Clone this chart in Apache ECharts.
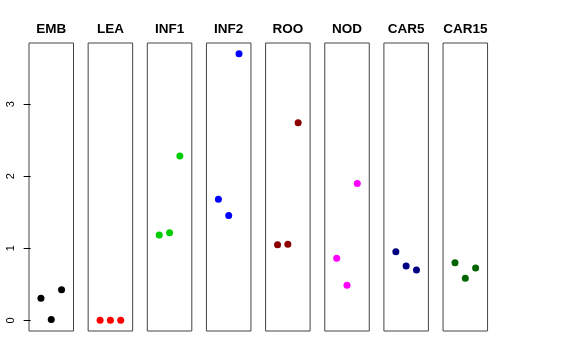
<!DOCTYPE html>
<html><head><meta charset="utf-8">
<script src="https://cdn.jsdelivr.net/npm/echarts@6/dist/echarts.min.js"></script>
<style>html,body{margin:0;padding:0;background:#fff}#c{width:576px;height:360px}</style>
</head><body><div id="c"></div>
<script>
const panels = ['EMB','LEA','INF1','INF2','ROO','NOD','CAR5','CAR15'];
const colors = ['#000000','#FF0000','#00CD00','#0000FF','#8B0000','#FF00FF','#000080','#006400'];
const xPositions = [1, 2, 3];
const EMB = [0.305, 0.012, 0.425];
const LEA = [0.0, 0.0, 0.0];
const INF1 = [1.185, 1.215, 2.28];
const INF2 = [1.68, 1.455, 3.70];
const ROO = [1.05, 1.055, 2.74];
const NOD = [0.86, 0.487, 1.90];
const CAR5 = [0.95, 0.755, 0.70];
const CAR15 = [0.80, 0.585, 0.726];
const yTicks = [0, 1, 2, 3];
const values = [EMB, LEA, INF1, INF2, ROO, NOD, CAR5, CAR15];

const yMin = -0.148, yMax = 3.848;
const grids = [], xAxes = [], yAxes = [], series = [];
panels.forEach((name, i) => {
  grids.push({left: 29 + i * 59.15, top: 43, width: 44.5, height: 288,
    show: true, borderColor: '#444', borderWidth: 1, backgroundColor: 'transparent'});
  xAxes.push({gridIndex: i, type: 'value', min: -0.16, max: 4.16, position: 'top',
    name: name, nameLocation: 'middle', nameGap: 7,
    nameTextStyle: {fontFamily: 'Liberation Sans', fontWeight: 'bold', fontSize: 13.5, color: '#000'},
    axisLine: {show: false}, axisTick: {show: false}, axisLabel: {show: false}, splitLine: {show: false}});
  const first = i === 0;
  yAxes.push({gridIndex: i, type: 'value', min: yMin, max: yMax,
    axisLine: {show: false},
    axisTick: {show: first, length: 7, lineStyle: {color: '#000'}, customValues: yTicks},
    axisLabel: {show: first, rotate: 90, margin: 13, fontFamily: 'Liberation Sans', fontSize: 11, color: '#000', customValues: yTicks},
    splitLine: {show: false}});
  series.push({type: 'scatter', xAxisIndex: i, yAxisIndex: i, symbol: 'circle', symbolSize: 7,
    itemStyle: {color: colors[i], opacity: 1},
    data: xPositions.map((x, k) => [x, values[i][k]])});
});

const chart = echarts.init(document.getElementById('c'), null, {renderer: 'canvas'});
chart.setOption({animation: false, grid: grids, xAxis: xAxes, yAxis: yAxes, series: series});
</script></body></html>
